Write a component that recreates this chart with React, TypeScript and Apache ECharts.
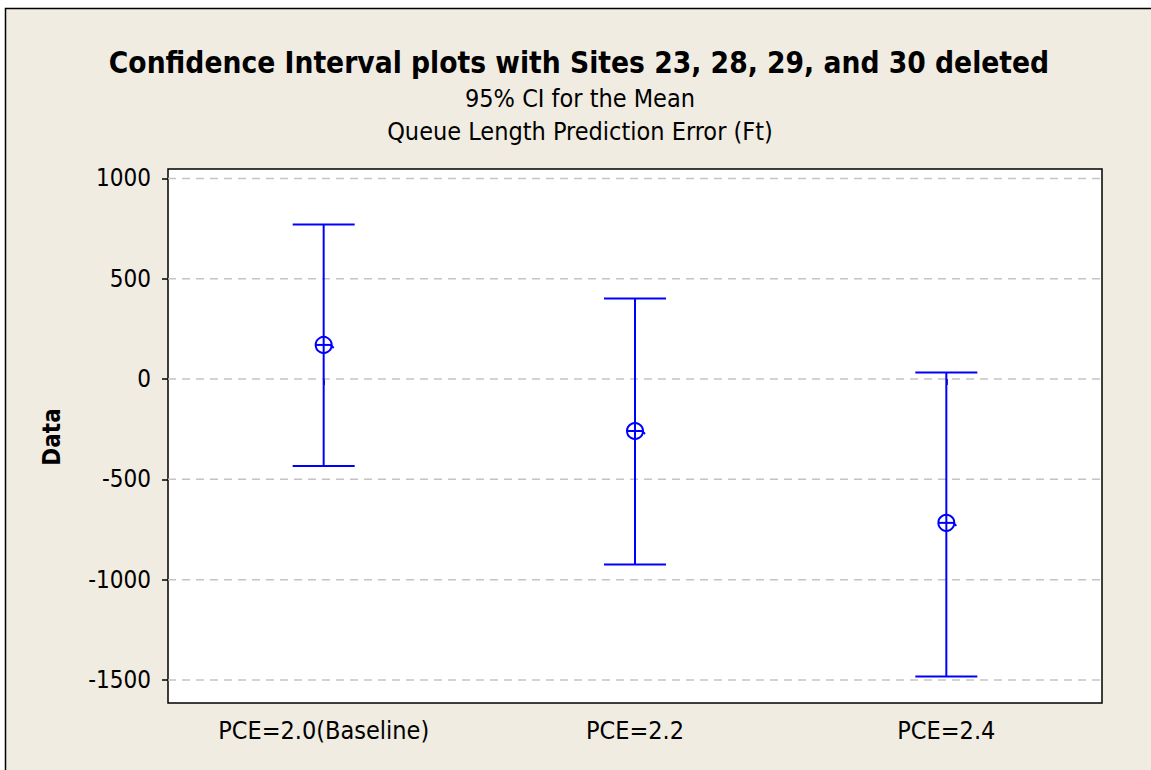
import React, { useEffect, useRef } from "react";
import * as echarts from "echarts";

const categories = ["PCE=2.0(Baseline)", "PCE=2.2", "PCE=2.4"];
const upperValues = [770, 401, 32];
const meanValues = [170, -259, -717];
const lowerValues = [-433, -925, -1483];
const yTickValues = [1000, 500, 0, -500, -1000, -1500];

const FONT = "'DejaVu Sans Condensed', 'DejaVu Sans', sans-serif";
const BLUE = "#0000FF";

export default function App() {
  const ref = useRef<HTMLDivElement>(null);
  useEffect(() => {
    if (!ref.current) return;
    const chart = echarts.init(ref.current, undefined, { renderer: "svg" });
    const barData = categories.map((c, i) => [i, lowerValues[i], meanValues[i], upperValues[i]]);
    chart.setOption({
      animation: false,
      backgroundColor: "transparent",
      graphic: [
        {
          type: "rect",
          z: -10,
          shape: { x: 5.5, y: 8.5, width: 1200, height: 800 },
          style: { fill: "#F0ECE2", stroke: "#000", lineWidth: 1.5 },
        },
        {
          type: "text",
          x: 579,
          y: 63,
          style: {
            text: "Confidence Interval plots with Sites 23, 28, 29, and 30 deleted",
            font: `bold 29.6px ${FONT}`,
            fill: "#000",
            textAlign: "center",
            textVerticalAlign: "middle",
          },
        },
        {
          type: "text",
          x: 580,
          y: 98,
          style: {
            text: "95% CI for the Mean",
            font: `25px ${FONT}`,
            fill: "#000",
            textAlign: "center",
            textVerticalAlign: "middle",
          },
        },
        {
          type: "text",
          x: 580,
          y: 131,
          style: {
            text: "Queue Length Prediction Error (Ft)",
            font: `25px ${FONT}`,
            fill: "#000",
            textAlign: "center",
            textVerticalAlign: "middle",
          },
        },
        {
          type: "text",
          x: 52,
          y: 437,
          rotation: Math.PI / 2,
          style: {
            text: "Data",
            font: `bold 24px ${FONT}`,
            fill: "#000",
            textAlign: "center",
            textVerticalAlign: "middle",
          },
        },
      ],
      grid: {
        left: 168,
        top: 169,
        width: 934,
        height: 534,
        show: true,
        backgroundColor: "#FFFFFF",
        borderColor: "#000",
        borderWidth: 1.5,
        containLabel: false,
      },
      xAxis: {
        type: "category",
        data: categories,
        boundaryGap: true,
        axisLine: { show: false },
        axisTick: { show: true, alignWithLabel: true, length: 6, lineStyle: { color: "#000", width: 1.5 } },
        axisLabel: { color: "#000", fontSize: 25, fontFamily: FONT, margin: 15 },
        splitLine: { show: false },
      },
      yAxis: {
        type: "value",
        min: -1615,
        max: 1047,
        axisLine: { show: false },
        axisTick: { show: true, length: 6, customValues: yTickValues, lineStyle: { color: "#000", width: 1.5 } },
        axisLabel: {
          color: "#000",
          fontSize: 24,
          fontFamily: FONT,
          margin: 17,
          customValues: yTickValues,
          formatter: (v: number) => String(v),
        },
        splitLine: { show: false },
      },
      series: [
        {
          type: "custom",
          z: 1,
          silent: true,
          data: yTickValues.map((v) => [0, v]),
          renderItem: (params: any, api: any) => {
            const cs = params.coordSys;
            const y = api.coord([0, api.value(1)])[1];
            return {
              type: "line",
              shape: { x1: cs.x, y1: y, x2: cs.x + cs.width, y2: y },
              style: { stroke: "#C4C4C4", lineWidth: 1.5, lineDash: [8, 6] },
            };
          },
        },
        {
          type: "custom",
          z: 3,
          data: barData,
          encode: { x: 0, y: [1, 2, 3] },
          renderItem: (params: any, api: any) => {
            const idx = api.value(0);
            const lo = api.coord([idx, api.value(1)]);
            const mid = api.coord([idx, api.value(2)]);
            const hi = api.coord([idx, api.value(3)]);
            const x = lo[0];
            const cap = 31;
            const r = 8;
            const s = { stroke: BLUE, lineWidth: 2, fill: "none" };
            return {
              type: "group",
              children: [
                { type: "line", shape: { x1: x, y1: hi[1], x2: x, y2: lo[1] }, style: s },
                { type: "line", shape: { x1: x - cap, y1: hi[1], x2: x + cap, y2: hi[1] }, style: s },
                { type: "line", shape: { x1: x - cap, y1: lo[1], x2: x + cap, y2: lo[1] }, style: s },
                { type: "circle", shape: { cx: x, cy: mid[1], r }, style: { stroke: BLUE, lineWidth: 2, fill: "none" } },
                { type: "line", shape: { x1: x - r, y1: mid[1], x2: x + r, y2: mid[1] }, style: s },
                { type: "line", shape: { x1: x + r - 1, y1: mid[1], x2: x + r + 2, y2: mid[1] + 3 }, style: s },
              ],
            };
          },
        },
      ],
    });
    return () => chart.dispose();
  }, []);
  return (
    <div
      ref={ref}
      style={{ position: "absolute", left: 0, top: 0, width: 1151, height: 770, overflow: "hidden" }}
    />
  );
}
